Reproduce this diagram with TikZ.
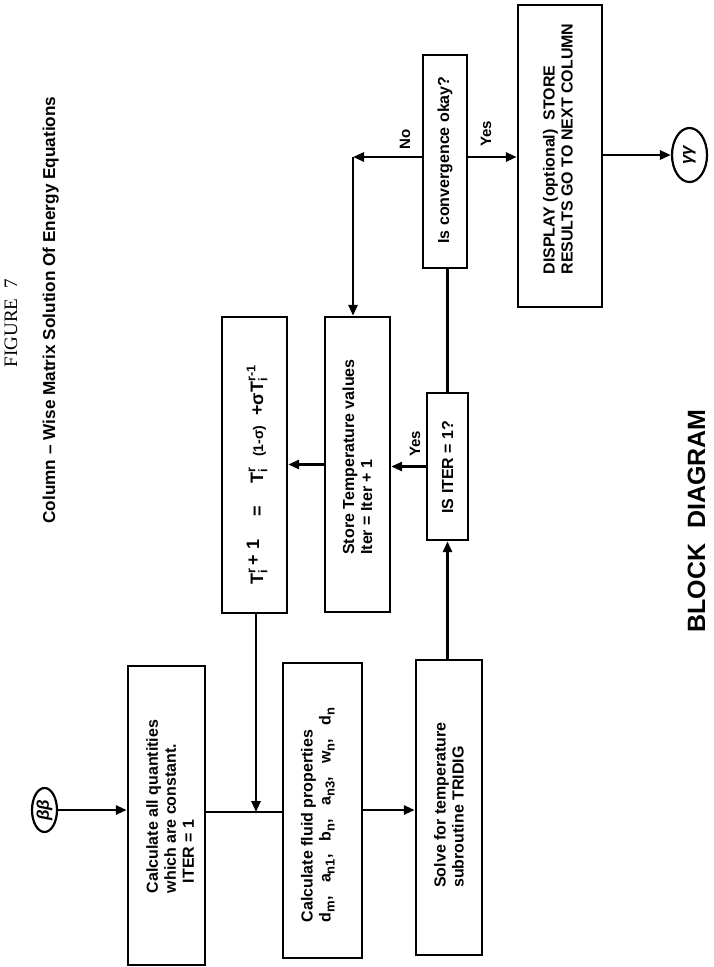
\documentclass[tikz,border=0pt]{standalone}
\usepackage{fontspec}
\usepackage{amsmath}
\setmainfont{Liberation Sans}
\newfontfamily\seriffont{Liberation Serif}
\usetikzlibrary{arrows.meta,shapes.geometric}
\newcommand\Tri[1]{$\text{T}^{\text{#1}}_{\text{i}}$}
\newcommand\sbx[1]{\raisebox{-4pt}{\fontsize{13}{13}\selectfont #1}}
\begin{document}
\begin{tikzpicture}[x=1pt,y=-1pt,
  box/.style={draw, line width=2.4pt, inner sep=0pt},
  txt/.style={rotate=90, font=\bfseries\fontsize{16}{18}\selectfont, align=left, inner sep=0pt},
  oval/.style={draw, ellipse, line width=2.2pt, inner sep=0pt},
  conn/.style={line width=2.8pt},
  arr/.style={conn, -{Triangle[length=11pt,width=9pt]}},
  lbl/.style={rotate=90, font=\bfseries\fontsize{15}{17}\selectfont, inner sep=0pt}
]
\useasboundingbox (0,0) rectangle (713,967);

% titles
\node[rotate=90, anchor=base, font=\seriffont\fontsize{19}{19}\selectfont, inner sep=0pt] (fig) at (17,323) {FIGURE\hspace{10pt}7};
\node[rotate=90, anchor=base, font=\bfseries\fontsize{17.2}{18}\selectfont, inner sep=0pt] (sub) at (55,310) {Column -- Wise Matrix Solution Of Energy Equations};
\node[rotate=90, anchor=base, font=\bfseries\fontsize{25}{25}\selectfont, inner sep=0pt] (bd) at (705,521) {BLOCK\hspace{0.6em}DIAGRAM};

% terminals
\node[oval, minimum width=25pt, minimum height=44pt] (bb) at (44.5,810) {};
\node[rotate=90, font=\bfseries\itshape\fontsize{17}{17}\selectfont, inner sep=0pt] (bbt) at (bb) {ββ};
\node[oval, minimum width=35pt, minimum height=54pt] (gg) at (689.5,155) {};
\node[rotate=90, font=\bfseries\itshape\fontsize{17}{17}\selectfont, inner sep=0pt] (ggt) at (gg) {γγ};

% boxes
\node[box, minimum width=77pt, minimum height=299pt] (b1) at (166.5,815.5) {};
\node[txt] (t1) at (170,806.5) {Calculate all quantities\\ which are constant.\\ \hspace*{10pt}ITER = 1};

\node[box, minimum width=79pt, minimum height=295pt] (b2) at (322.5,810.5) {};
\node[txt] (t2) at (318,815) {Calculate fluid properties\\ d\sbx{m},\ \ \ a\sbx{n1},\ \ \ b\sbx{n},\ \ \ a\sbx{n3},\ \ \ w\sbx{n},\ \ \ d\sbx{n}};

\node[box, minimum width=66pt, minimum height=295pt] (b3) at (449,807.5) {};
\node[txt] (t3) at (449,805) {Solve for temperature\\ subroutine TRIDIG};

\node[box, minimum width=41pt, minimum height=147pt] (b4) at (447.5,466.5) {};
\node[txt] (t4) at (447.5,467) {IS ITER = 1?};

\node[box, minimum width=65pt, minimum height=295pt] (b5) at (357.5,464.5) {};
\node[txt] (t5) at (357.5,457) {Store Temperature values\\ Iter = Iter + 1};

\node[box, minimum width=65pt, minimum height=296pt] (bT) at (254.5,465) {};
\node[txt, font=\bfseries\fontsize{18}{20}\selectfont] (tT) at (257,475) {\Tri{r}\,\raisebox{4pt}{+ 1}\quad\ =\quad\ \Tri{r}\ \ {\fontsize{14}{14}\selectfont (1-σ)}\ \ +σ\Tri{r-1}};

\node[box, minimum width=44pt, minimum height=213pt] (b6) at (445,161.5) {};
\node[txt] (t6) at (445,160) {Is convergence okay?};

\node[box, minimum width=84pt, minimum height=302pt] (b7) at (560,156) {};
\node[txt] (t7) at (558,149) {DISPLAY (optional)\ \ STORE\\ RESULTS GO TO NEXT COLUMN};

% connectors
\coordinate (j1) at (256,812);
\coordinate (j2) at (390,810);
\coordinate (nj) at (353,157);

\draw[arr] (bb.east) -- (bb.east -| b1.west);
\draw[conn] (b1.east |- j1) -- (b2.west |- j1);
\draw[arr] (bT.south -| j1) -- (j1);
\draw[arr] (b2.east |- j2) -- (b3.west |- j2);
\draw[arr] (b4.south |- b3.north) -- (b4.south);
\draw[arr] (b4.west) -- (b4.west -| b5.east);
\draw[arr] (b5.west) -- (b5.west -| bT.east);
\draw[conn] (b4.north) -- (b4.north |- b6.south);
\draw[arr] (b6.west |- nj) -- (nj);
\draw[arr] (nj) -- (nj |- b5.north);
\draw[arr] (b6.east |- nj) -- (b7.west |- nj);
\draw[arr] (b7.east |- gg) -- (gg.west);

% branch labels
\node[lbl] (no) at (405,139) {No};
\node[lbl] (yes1) at (486,134) {Yes};
\node[lbl] (yes2) at (415,444) {Yes};
\end{tikzpicture}
\end{document}
